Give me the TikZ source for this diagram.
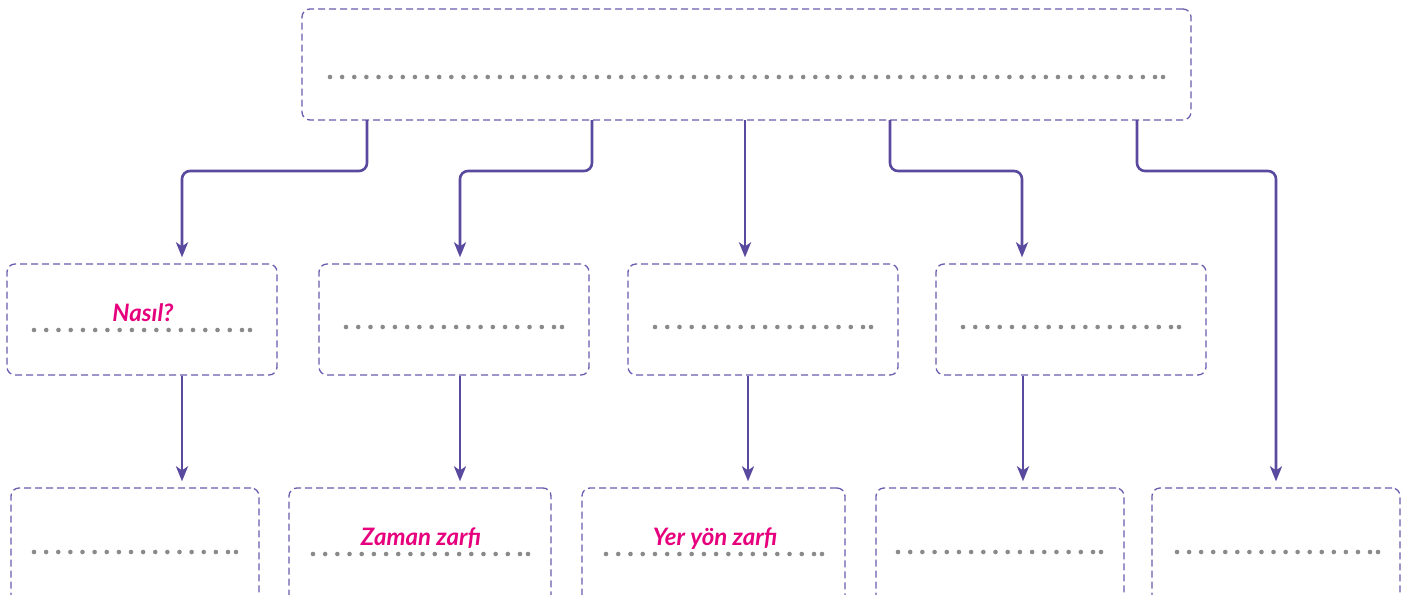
\documentclass[tikz,border=0pt]{standalone}
\usepackage{fontspec}
\setmainfont{Lato}
\usetikzlibrary{arrows.meta,calc}
\definecolor{boxc}{HTML}{6B5BAE}
\definecolor{arrc}{HTML}{5A4A9F}
\definecolor{dotc}{HTML}{8A8A8A}
\definecolor{pinkc}{HTML}{E6007E}
\tikzset{
  dbox/.style={draw=boxc, dashed, dash pattern=on 7pt off 4pt, line width=1.3pt, rounded corners=8pt, inner sep=0pt},
  arr/.style={draw=arrc, line width=2.6pt, rounded corners=8pt, -{Stealth[length=15pt,width=12pt,inset=4pt]}, shorten >=6pt},
  lab/.style={text=pinkc, font=\fontsize{24}{26}\selectfont\bfseries\itshape, anchor=base, inner sep=0pt}
}
\newcommand\dotrow[3]{%
  \pgfmathsetmacro\dotn{round((#2-#1-8)/12.2)}%
  \pgfmathsetmacro\dotsp{(#2-#1-8)/\dotn}%
  \foreach \k in {0,...,\dotn} {\fill[dotc] ({#1+\k*\dotsp},#3) circle (2.3pt);}
  \fill[dotc] (#2,#3) circle (2.3pt);}
\begin{document}
\begin{tikzpicture}[x=1pt,y=-1pt]
\useasboundingbox (0,0) rectangle (1418,594);
\clip (0,0) rectangle (1418,594);
% top box
\node[dbox, minimum width=889pt, minimum height=111pt] (top) at (746.5,64.5) {};
% middle boxes
\node[dbox, minimum width=270pt, minimum height=111pt] (m1) at (142,319.5) {};
\node[dbox, minimum width=270pt, minimum height=111pt] (m2) at (454,319.5) {};
\node[dbox, minimum width=270pt, minimum height=111pt] (m3) at (763,319.5) {};
\node[dbox, minimum width=270pt, minimum height=111pt] (m4) at (1071,319.5) {};
% bottom boxes
\node[dbox, minimum width=248pt, minimum height=160pt] (b1) at (135,568) {};
\node[dbox, minimum width=262pt, minimum height=160pt] (b2) at (420,568) {};
\node[dbox, minimum width=263pt, minimum height=160pt] (b3) at (713.5,568) {};
\node[dbox, minimum width=248pt, minimum height=160pt] (b4) at (1000,568) {};
\node[dbox, minimum width=248pt, minimum height=160pt] (b5) at (1276,568) {};
% connector x positions
\coordinate (s1) at (367,120);
\coordinate (s2) at (592,120);
\coordinate (s3) at (745,120);
\coordinate (s4) at (890,120);
\coordinate (s5) at (1137,120);
\coordinate (c1) at (182,0);
\coordinate (c2) at (460,0);
\coordinate (c3) at (745,0);
\coordinate (c4) at (1022,0);
\coordinate (c5) at (1276,0);
\coordinate (d3) at (748,0);
\coordinate (d4) at (1023,0);
% arrows from top
\draw[arr] (s1) -- ($(s1)+(0,51)$) -| (m1.north -| c1);
\draw[arr] (s2) -- ($(s2)+(0,51)$) -| (m2.north -| c2);
\draw[arr] (s3) -- (m3.north -| c3);
\draw[arr] (s4) -- ($(s4)+(0,51)$) -| (m4.north -| c4);
\draw[arr] (s5) -- ($(s5)+(0,51)$) -| (b5.north -| c5);
% arrows middle to bottom
\draw[arr] (m1.south -| c1) -- (b1.north -| c1);
\draw[arr] (m2.south -| c2) -- (b2.north -| c2);
\draw[arr] (m3.south -| d3) -- (b3.north -| d3);
\draw[arr] (m4.south -| d4) -- (b4.north -| d4);
% dotted lines
\dotrow{330}{1163}{77}
\dotrow{34}{250}{330}
\dotrow{346}{562}{327}
\dotrow{655}{871}{327}
\dotrow{963}{1179}{327}
\dotrow{34}{236}{552}
\dotrow{313}{528}{554}
\dotrow{606}{822}{554}
\dotrow{898}{1101}{552}
\dotrow{1177}{1378}{552}
% labels
\node[lab] (t1) at (143,321.5) {Nasıl?};
\node[lab] (t2) at (421,545) {Zaman zarfı};
\node[lab] (t3) at (715,545) {Yer yön zarfı};
\end{tikzpicture}
\end{document}
